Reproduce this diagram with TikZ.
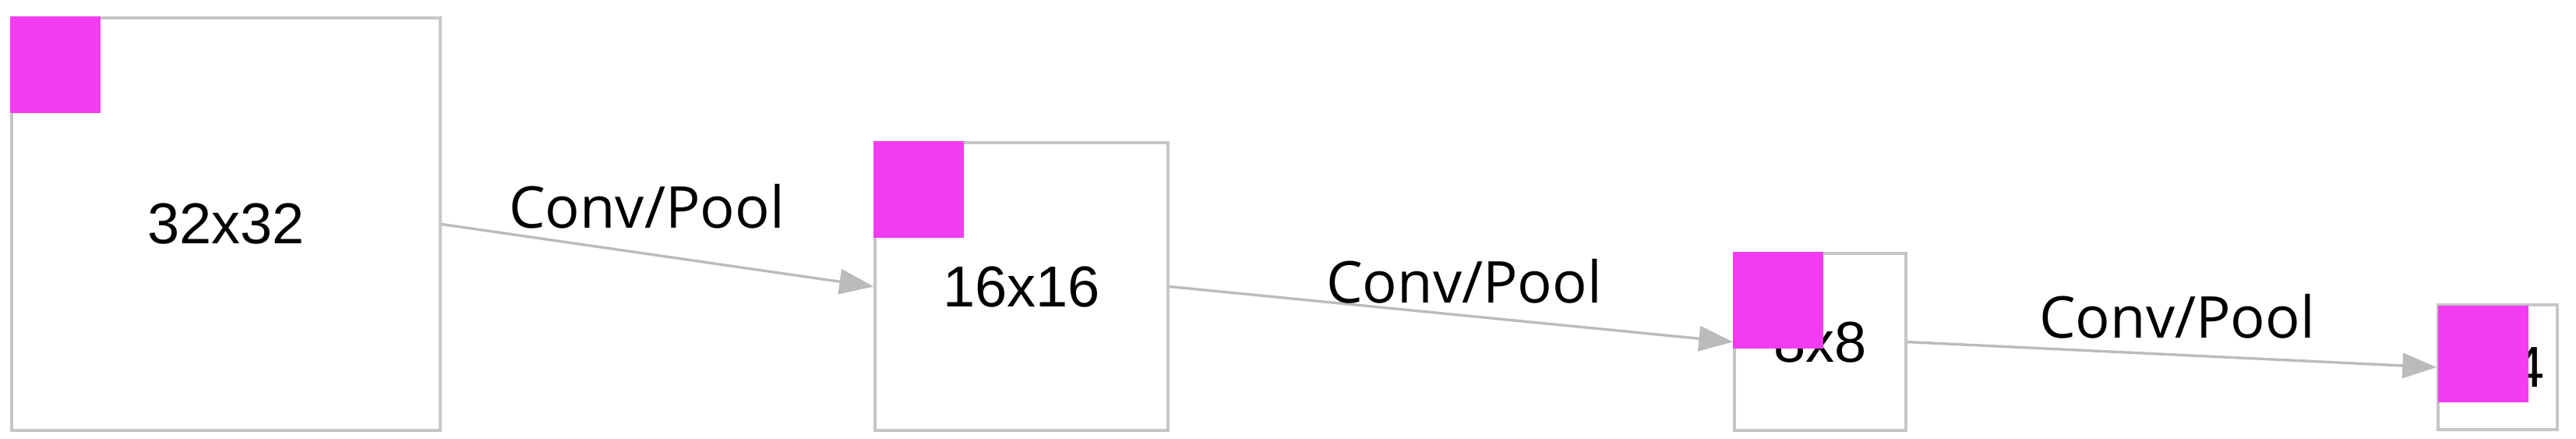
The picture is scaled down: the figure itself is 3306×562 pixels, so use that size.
\documentclass[tikz,border=0pt]{standalone}
\usepackage{fontspec}
\setmainfont{Liberation Sans}
\newfontfamily\convfont{Open Sans}
\usetikzlibrary{arrows.meta}
\definecolor{boxgray}{HTML}{C6C6C6}
\definecolor{arrgray}{HTML}{BBBBBB}
\definecolor{mag}{HTML}{F23BF3}
\begin{document}
\begin{tikzpicture}[x=0.25pt,y=-0.25pt,
  fmap/.style={draw=boxgray, line width=0.85pt, fill=white, inner sep=0pt, rectangle},
  dimlabel/.style={inner sep=0pt, font=\fontsize{18.5}{22}\selectfont},
  oplabel/.style={inner sep=0pt, anchor=base, font=\convfont\fontsize{18.5}{22}\selectfont},
  kernel/.style={fill=mag, draw=mag, line width=0.3pt, inner sep=0pt, anchor=north west,
                 minimum width=28.5pt, minimum height=30.5pt},
  flow/.style={draw=arrgray, line width=0.85pt, -{Triangle[length=11pt,width=8pt]}}]
\useasboundingbox (0,0) rectangle (3306,562);
% feature maps
\node[fmap, minimum width=137.5pt, minimum height=132.25pt] (b1) at (290,287.5) {};
\node[fmap, minimum width=94pt, minimum height=92.25pt] (b2) at (1311,367.5) {};
\node[fmap, minimum width=55pt, minimum height=56.75pt] (b3) at (2336,438.5) {};
\node[fmap, minimum width=38.25pt, minimum height=40pt] (b4) at (3205.5,471) {};
% size labels
\node[dimlabel] (t1) at (b1.center) {32x32};
\node[dimlabel] (t2) at (b2.center) {16x16};
\node[dimlabel] (t3) at (b3.center) {8x8};
\node[dimlabel] (t4) at (b4.center) {4x4};
% connectors
\draw[flow] (b1.east) -- (b2.west);
\draw[flow] (b2.east) -- (b3.west);
\draw[flow] (b3.east) -- (b4.west);
% operation labels
\node[oplabel] (o1) at (830,292) {Conv/Pool};
\node[oplabel] (o2) at (1879,388) {Conv/Pool};
\node[oplabel] (o3) at (2794,433) {Conv/Pool};
% kernels
\node[kernel] (k1) at (b1.north west) {};
\node[kernel] (k2) at (b2.north west) {};
\node[kernel] (k3) at (b3.north west) {};
\node[kernel] (k4) at ([xshift=0.5pt,yshift=-0.75pt]b4.north west) {};
\end{tikzpicture}
\end{document}
